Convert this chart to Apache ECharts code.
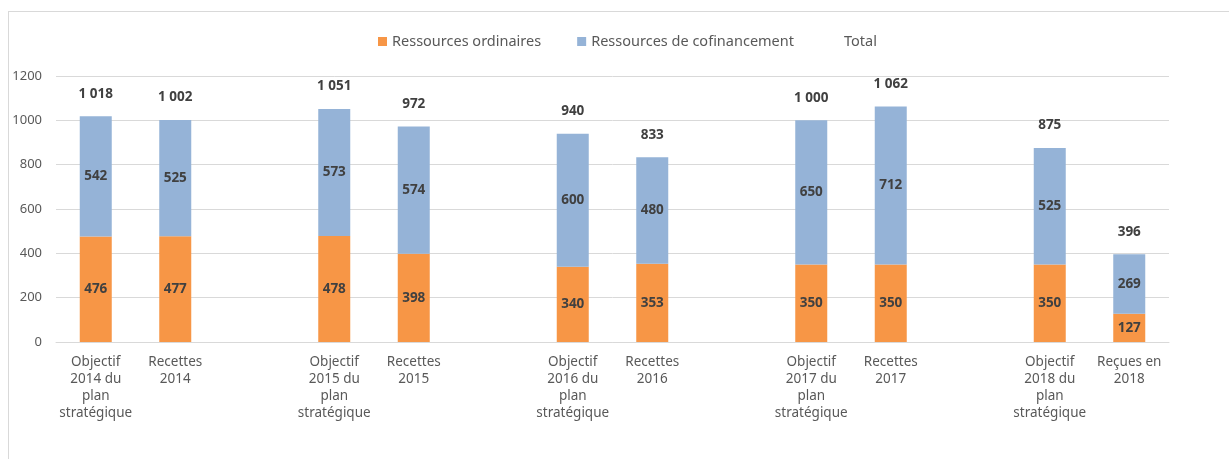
<!DOCTYPE html>
<html>
<head>
<meta charset="utf-8">
<script src="https://cdn.jsdelivr.net/npm/echarts@6/dist/echarts.min.js"></script>
<style>
  body { margin: 0; background: #fff; }
  #frame { position: absolute; left: 8px; top: 11px; width: 1300px; height: 500px; border: 1px solid #d9d9d9; }
  #main { position: absolute; left: 0; top: 0; width: 1229px; height: 459px; }
</style>
</head>
<body>
<div id="frame"></div>
<div id="main"></div>
<script>
// blank slots between the yearly groups
const categories = [
  'Objectif\n2014 du\nplan\nstratégique', 'Recettes\n2014', '',
  'Objectif\n2015 du\nplan\nstratégique', 'Recettes\n2015', '',
  'Objectif\n2016 du\nplan\nstratégique', 'Recettes\n2016', '',
  'Objectif\n2017 du\nplan\nstratégique', 'Recettes\n2017', '',
  'Objectif\n2018 du\nplan\nstratégique', 'Reçues en\n2018'
];
const ordinaires = [476, 477, '-', 478, 398, '-', 340, 353, '-', 350, 350, '-', 350, 127];
const cofinancement = [542, 525, '-', 573, 574, '-', 600, 480, '-', 650, 712, '-', 525, 269];
const totals = [1018, 1002, '-', 1051, 972, '-', 940, 833, '-', 1000, 1062, '-', 875, 396];

const font = 'Noto Sans';
const fmtTotal = (v) => String(v).replace(/\B(?=(\d{3})+(?!\d))/g, ' ');

const chart = echarts.init(document.getElementById('main'));
chart.setOption({
  animation: false,
  textStyle: { fontFamily: font },
  legend: {
    top: 29,
    left: 373,
    itemWidth: 9,
    itemHeight: 9,
    itemGap: 36,
    textStyle: { color: '#595959', fontSize: 14.5, fontFamily: font },
    data: [
      { name: 'Ressources ordinaires', icon: 'rect' },
      { name: 'Ressources de cofinancement', icon: 'rect' },
      { name: 'Total', icon: 'rect', itemStyle: { opacity: 0 } }
    ]
  },
  grid: { left: 56, right: 60, top: 76, bottom: 117 },
  xAxis: {
    type: 'category',
    data: categories,
    axisLine: { lineStyle: { color: '#d9d9d9' } },
    axisTick: { show: false },
    axisLabel: {
      interval: 0,
      color: '#595959',
      fontSize: 13.5,
      lineHeight: 17,
      margin: 12,
      fontFamily: font
    }
  },
  yAxis: {
    type: 'value',
    min: 0,
    max: 1200,
    interval: 200,
    axisLabel: { color: '#595959', fontSize: 13, margin: 14, fontFamily: font, formatter: (v) => String(v) },
    splitLine: { lineStyle: { color: '#d9d9d9' } },
    axisLine: { show: false },
    axisTick: { show: false }
  },
  series: [
    {
      name: 'Ressources ordinaires',
      type: 'bar',
      stack: 'r',
      barWidth: 32,
      data: ordinaires,
      itemStyle: { color: '#F79646' },
      label: { show: true, position: 'inside', color: '#404040', fontWeight: 'bold', fontSize: 13.5 }
    },
    {
      name: 'Ressources de cofinancement',
      type: 'bar',
      stack: 'r',
      barWidth: 32,
      data: cofinancement,
      itemStyle: { color: '#95B3D7' },
      label: { show: true, position: 'inside', color: '#404040', fontWeight: 'bold', fontSize: 13.5 }
    },
    {
      name: 'Total',
      type: 'line',
      data: totals,
      symbol: 'circle',
      symbolSize: 1,
      lineStyle: { opacity: 0 },
      itemStyle: { color: 'rgba(255,255,255,0)' },
      label: {
        show: true,
        position: 'top',
        distance: 15,
        color: '#404040',
        fontWeight: 'bold',
        fontSize: 13.5,
        formatter: (p) => fmtTotal(p.value)
      }
    }
  ]
});
</script>
</body>
</html>
